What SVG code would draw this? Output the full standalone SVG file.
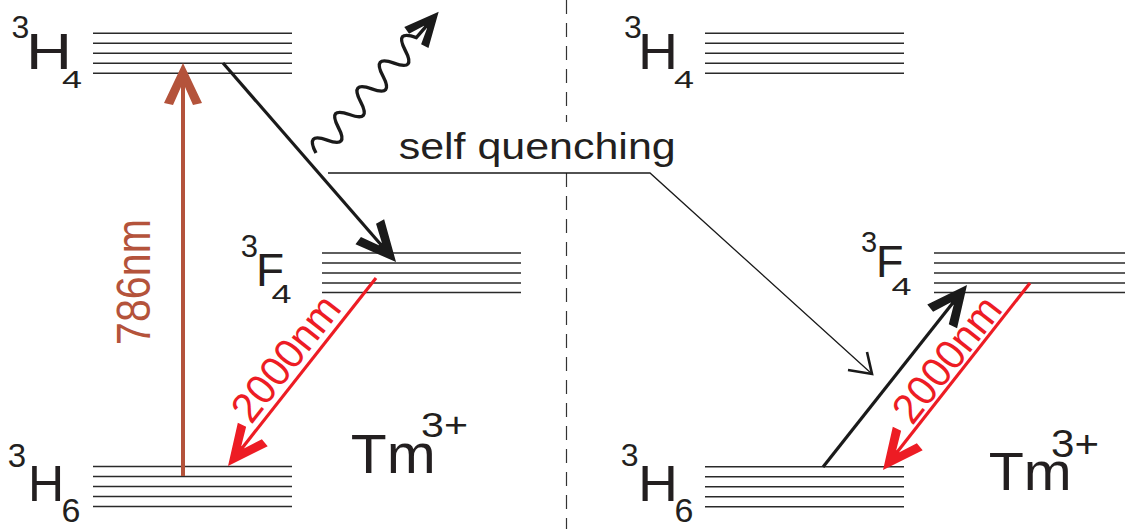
<svg xmlns="http://www.w3.org/2000/svg" width="1125" height="529" viewBox="0 0 1125 529">
<style>
.t{font-family:"Liberation Sans",Arial,sans-serif;fill:#231f20}
.lvl{stroke:#2a2a2a;stroke-width:1.6;fill:none}
.blk{stroke:#1a1a1a;stroke-width:3.2;fill:none}
.red{stroke:#ed1c24;stroke-width:3.2;fill:none}
.brn{stroke:#b4533b;stroke-width:4;fill:none}
</style>
<defs>
<marker id="hk" markerUnits="userSpaceOnUse" orient="auto" refX="-15" refY="0" markerWidth="1" markerHeight="1" overflow="visible">
<path d="M0,0 L-40,-19 L-42,-10 L-24,-2 L-24,2 L-42,10 L-40,19 Z" fill="#1a1a1a"/>
</marker>
<marker id="hr" markerUnits="userSpaceOnUse" orient="auto" refX="-15" refY="0" markerWidth="1" markerHeight="1" overflow="visible">
<path d="M0,0 L-40,-19 L-42,-10 L-24,-2 L-24,2 L-42,10 L-40,19 Z" fill="#ed1c24"/>
</marker>
<marker id="hb" markerUnits="userSpaceOnUse" orient="auto" refX="-15" refY="0" markerWidth="1" markerHeight="1" overflow="visible">
<path d="M0,0 L-40,-19 L-42,-10 L-24,-2 L-24,2 L-42,10 L-40,19 Z" fill="#b4533b"/>
</marker>
<marker id="hw" markerUnits="userSpaceOnUse" orient="auto" refX="-12" refY="0" markerWidth="1" markerHeight="1" overflow="visible">
<path d="M0,0 L-34,-16 L-36,-8 L-20,-2 L-20,2 L-36,8 L-34,16 Z" fill="#1a1a1a"/>
</marker>
</defs>

<g id="divider">
<path d="M566.5,0 V122 M566.5,173 V529" stroke="#333" stroke-width="1.2" stroke-dasharray="14 9" fill="none"/>
</g>

<g id="left-3H4">
<path class="lvl" d="M93,33.3H292M93,43.3H292M93,53.3H292M93,63.3H292M93,73.3H292"/>
<text class="t" x="11.5" y="38" font-size="32">3</text>
<text class="t" x="26" y="69" font-size="50" textLength="46" lengthAdjust="spacingAndGlyphs">H</text>
<text class="t" x="62" y="88" font-size="24" textLength="20" lengthAdjust="spacingAndGlyphs">4</text>
</g>

<g id="left-3F4">
<path class="lvl" d="M322,253H521M322,263H521M322,273H521M322,283H521M322,292.5H521"/>
<text class="t" x="240.7" y="257" font-size="31">3</text>
<text class="t" x="256" y="286" font-size="46">F</text>
<text class="t" x="271.4" y="303" font-size="25" textLength="20" lengthAdjust="spacingAndGlyphs">4</text>
</g>

<g id="left-3H6">
<path class="lvl" d="M93,466.5H292M93,476.5H292M93,486.5H292M93,496.5H292M93,506.5H292"/>
<text class="t" x="7.7" y="467" font-size="33">3</text>
<text class="t" x="28" y="501" font-size="50">H</text>
<text class="t" x="61.6" y="521.5" font-size="34">6</text>
</g>

<g id="left-ion">
<text class="t" x="350.7" y="473" font-size="56" textLength="85" lengthAdjust="spacingAndGlyphs">Tm</text>
<text class="t" x="421" y="437" font-size="35" textLength="47" lengthAdjust="spacingAndGlyphs">3+</text>
</g>

<g id="right-3H4">
<path class="lvl" d="M705,33.3H904M705,43.3H904M705,53.3H904M705,63.3H904M705,73.3H904"/>
<text class="t" x="624" y="38" font-size="32">3</text>
<text class="t" x="638" y="69" font-size="50" textLength="40" lengthAdjust="spacingAndGlyphs">H</text>
<text class="t" x="674" y="88" font-size="24" textLength="20" lengthAdjust="spacingAndGlyphs">4</text>
</g>

<g id="right-3F4">
<path class="lvl" d="M934,253H1125M934,263H1125M934,273H1125M934,283H1125M934,292.5H1125"/>
<text class="t" x="861" y="252" font-size="29">3</text>
<text class="t" x="876" y="277" font-size="45">F</text>
<text class="t" x="891.4" y="295" font-size="24" textLength="20" lengthAdjust="spacingAndGlyphs">4</text>
</g>

<g id="right-3H6">
<path class="lvl" d="M705,466.7H904M705,476.7H904M705,486.7H904M705,496.7H904M705,506.7H904"/>
<text class="t" x="620.7" y="466" font-size="32">3</text>
<text class="t" x="638" y="501" font-size="50" textLength="40" lengthAdjust="spacingAndGlyphs">H</text>
<text class="t" x="674.6" y="521.5" font-size="34">6</text>
</g>

<g id="right-ion">
<text class="t" x="988.7" y="490" font-size="53" textLength="83" lengthAdjust="spacingAndGlyphs">Tm</text>
<text class="t" x="1051" y="456.5" font-size="38" textLength="48" lengthAdjust="spacingAndGlyphs">3+</text>
</g>

<g id="label-self-quenching">
<text class="t" x="398.7" y="159.3" font-size="36" textLength="277" lengthAdjust="spacingAndGlyphs">self quenching</text>
</g>

<g id="connectors">
<line class="brn" x1="183" y1="476" x2="183" y2="78" marker-end="url(#hb)"/>
<text class="t" transform="translate(150,343) rotate(-90)" x="-2" y="0" font-size="48" textLength="126" lengthAdjust="spacingAndGlyphs" style="fill:#b4533b">786nm</text>

<line class="blk" x1="223" y1="63" x2="386.2" y2="250.7" marker-end="url(#hk)"/>

<g transform="translate(316,153) rotate(-49)">
<path class="blk" style="stroke-width:3.4" d="M0,0 q8.5,-22 17,0 t17,0 t17,0 t17,0 t17,0 t17,0 t17,0 t17,0 t17,0 L175,0" marker-end="url(#hw)"/>
</g>

<line class="red" x1="376" y1="278" x2="237.3" y2="454.2" marker-end="url(#hr)"/>
<text class="t" transform="translate(297,367) rotate(-51.8)" x="0" y="0" font-size="42" text-anchor="middle" textLength="148" lengthAdjust="spacingAndGlyphs" style="fill:#ed1c24">2000nm</text>

<polyline points="328,173 650,173 872,374" fill="none" stroke="#1a1a1a" stroke-width="1.3"/>
<polyline points="848,370 872,374 867,352" fill="none" stroke="#1a1a1a" stroke-width="2.6"/>

<line class="blk" x1="823" y1="467" x2="957.7" y2="296.8" marker-end="url(#hk)"/>

<line class="red" x1="1030" y1="283" x2="892.3" y2="458.2" marker-end="url(#hr)"/>
<text class="t" transform="translate(958,368) rotate(-51.8)" x="0" y="0" font-size="42" text-anchor="middle" textLength="148" lengthAdjust="spacingAndGlyphs" style="fill:#ed1c24">2000nm</text>
</g>
</svg>
